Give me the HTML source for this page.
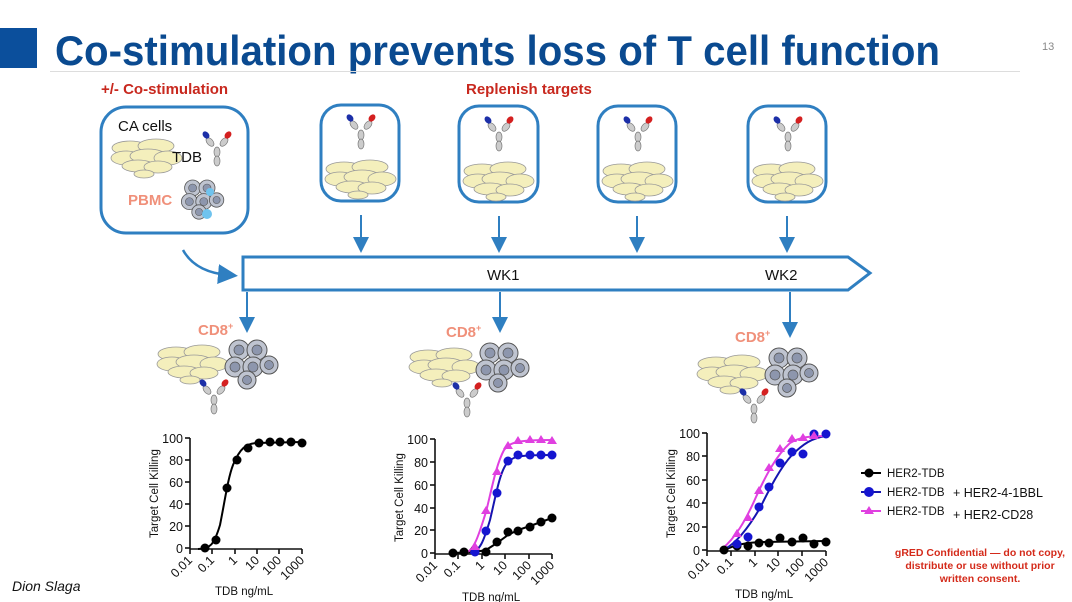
<!DOCTYPE html>
<html><head><meta charset="utf-8"><style>
html,body{margin:0;padding:0;background:#fff}
svg{display:block}
text{font-family:"Liberation Sans",sans-serif}
</style></head><body>
<svg width="1072" height="602" viewBox="0 0 1072 602" xmlns="http://www.w3.org/2000/svg">
<defs>
<g id="cells">
<ellipse cx="18" cy="14" rx="18" ry="7" fill="#f4efbc" stroke="#999" stroke-width="0.8"/>
<ellipse cx="44" cy="12" rx="18" ry="7" fill="#f4efbc" stroke="#999" stroke-width="0.8"/>
<ellipse cx="14" cy="24" rx="15" ry="7" fill="#f4efbc" stroke="#999" stroke-width="0.8"/>
<ellipse cx="36" cy="22" rx="18" ry="7" fill="#f4efbc" stroke="#999" stroke-width="0.8"/>
<ellipse cx="56" cy="24" rx="14" ry="7" fill="#f4efbc" stroke="#999" stroke-width="0.8"/>
<ellipse cx="26" cy="32" rx="16" ry="6" fill="#f4efbc" stroke="#999" stroke-width="0.8"/>
<ellipse cx="46" cy="33" rx="14" ry="6" fill="#f4efbc" stroke="#999" stroke-width="0.8"/>
<ellipse cx="32" cy="40" rx="10" ry="4" fill="#f4efbc" stroke="#999" stroke-width="0.8"/>
</g>
<g id="ab">
<ellipse cx="14" cy="22" rx="3" ry="5" fill="#ccc" stroke="#777" stroke-width="0.7"/>
<ellipse cx="14" cy="31" rx="3" ry="5" fill="#ccc" stroke="#777" stroke-width="0.7"/>
<ellipse cx="7" cy="12" rx="3" ry="5" fill="#ccc" stroke="#777" stroke-width="0.7" transform="rotate(-40 7 12)"/>
<ellipse cx="21" cy="12" rx="3" ry="5" fill="#ccc" stroke="#777" stroke-width="0.7" transform="rotate(40 21 12)"/>
<ellipse cx="3" cy="5" rx="3" ry="4" fill="#1c2fa8" transform="rotate(-40 3 5)"/>
<ellipse cx="25" cy="5" rx="3" ry="4" fill="#d42020" transform="rotate(40 25 5)"/>
</g>
<g id="tc">
<circle cx="12" cy="10" r="10" fill="#bfc4d0" stroke="#555" stroke-width="1"/><circle cx="12" cy="10" r="5" fill="#8d96ad" stroke="#555" stroke-width="0.7"/>
<circle cx="30" cy="10" r="10" fill="#bfc4d0" stroke="#555" stroke-width="1"/><circle cx="30" cy="10" r="5" fill="#8d96ad" stroke="#555" stroke-width="0.7"/>
<circle cx="8" cy="27" r="10" fill="#bfc4d0" stroke="#555" stroke-width="1"/><circle cx="8" cy="27" r="5" fill="#8d96ad" stroke="#555" stroke-width="0.7"/>
<circle cx="26" cy="27" r="10" fill="#bfc4d0" stroke="#555" stroke-width="1"/><circle cx="26" cy="27" r="5" fill="#8d96ad" stroke="#555" stroke-width="0.7"/>
<circle cx="42" cy="25" r="9" fill="#bfc4d0" stroke="#555" stroke-width="1"/><circle cx="42" cy="25" r="4.5" fill="#8d96ad" stroke="#555" stroke-width="0.7"/>
<circle cx="20" cy="40" r="9" fill="#bfc4d0" stroke="#555" stroke-width="1"/><circle cx="20" cy="40" r="4.5" fill="#8d96ad" stroke="#555" stroke-width="0.7"/>
</g>
<marker id="ah" markerWidth="8" markerHeight="8" refX="4" refY="4" orient="auto"><path d="M0,0 L8,4 L0,8 z" fill="#2f7fc1"/></marker>
</defs>

<rect x="0" y="28" width="37" height="40" fill="#0b4f9c"/>
<text x="55" y="65" font-size="42" font-weight="bold" fill="#0a4a90" textLength="885" lengthAdjust="spacingAndGlyphs">Co-stimulation prevents loss of T cell function</text>
<line x1="50" y1="71.5" x2="1020" y2="71.5" stroke="#ddd" stroke-width="1"/>
<text x="1042" y="50" font-size="11" fill="#888">13</text>

<text x="101" y="94" font-size="15" font-weight="bold" fill="#c8281e">+/- Co-stimulation</text>
<text x="466" y="94" font-size="15" font-weight="bold" fill="#c8281e">Replenish targets</text>

<rect x="101" y="107" width="147" height="126" rx="25" fill="none" stroke="#2f7fc1" stroke-width="3"/>
<text x="118" y="131" font-size="15" fill="#111">CA cells</text>
<use href="#cells" x="112" y="134"/>
<text x="172" y="162" font-size="15" fill="#111">TDB</text>
<use href="#ab" x="203" y="130"/>
<text x="128" y="205" font-size="15" font-weight="bold" fill="#f0907a">PBMC</text>
<g transform="translate(183,180) scale(0.8)"><use href="#tc"/></g>
<circle cx="210" cy="192" r="4" fill="#6fc3ee"/><circle cx="207" cy="214" r="5" fill="#6fc3ee"/>

<g fill="none" stroke="#2f7fc1" stroke-width="3">
<rect x="321" y="105" width="78" height="96" rx="20"/>
<rect x="459" y="106" width="79" height="96" rx="20"/>
<rect x="598" y="106" width="78" height="96" rx="20"/>
<rect x="748" y="106" width="78" height="96" rx="20"/>
</g>
<use href="#ab" x="347" y="113"/><use href="#cells" x="326" y="155"/>
<use href="#ab" x="485" y="115"/><use href="#cells" x="464" y="157"/>
<use href="#ab" x="624" y="115"/><use href="#cells" x="603" y="157"/>
<use href="#ab" x="774" y="115"/><use href="#cells" x="753" y="157"/>

<g stroke="#2f7fc1" stroke-width="2" marker-end="url(#ah)">
<line x1="361" y1="215" x2="361" y2="245"/>
<line x1="499" y1="216" x2="499" y2="245"/>
<line x1="637" y1="216" x2="637" y2="245"/>
<line x1="787" y1="216" x2="787" y2="245"/>
<line x1="247" y1="292" x2="247" y2="325"/>
<line x1="500" y1="292" x2="500" y2="325"/>
<line x1="790" y1="292" x2="790" y2="330"/>
</g>
<path d="M183,250 Q195,272 228,275" fill="none" stroke="#2f7fc1" stroke-width="2.5" marker-end="url(#ah)"/>
<path d="M243,257 L848,257 L870,273 L848,290 L243,290 Z" fill="none" stroke="#2f7fc1" stroke-width="3"/>
<text x="487" y="280" font-size="15" fill="#111">WK1</text>
<text x="765" y="280" font-size="15" fill="#111">WK2</text>

<g font-size="15" font-weight="bold" fill="#f0907a">
<text x="198" y="335">CD8<tspan font-size="9" dy="-6">+</tspan></text>
<text x="446" y="337">CD8<tspan font-size="9" dy="-6">+</tspan></text>
<text x="735" y="342">CD8<tspan font-size="9" dy="-6">+</tspan></text>
</g>
<use href="#cells" x="158" y="340"/><use href="#tc" x="227" y="340"/><use href="#ab" x="200" y="378"/>
<use href="#cells" x="410" y="343"/><use href="#tc" x="478" y="343"/><use href="#ab" x="453" y="381"/>
<use href="#cells" x="698" y="350"/><use href="#tc" x="767" y="348"/><use href="#ab" x="740" y="387"/>

<g font-size="12.5" fill="#111">
<g stroke="#111" stroke-width="1.6">
<line x1="190" y1="438" x2="190" y2="549"/><line x1="190" y1="549" x2="302" y2="549"/>
<line x1="185" y1="438" x2="190" y2="438"/><line x1="185" y1="460" x2="190" y2="460"/><line x1="185" y1="482" x2="190" y2="482"/><line x1="185" y1="504" x2="190" y2="504"/><line x1="185" y1="526" x2="190" y2="526"/><line x1="185" y1="548" x2="190" y2="548"/>
<line x1="190" y1="549" x2="190" y2="554"/><line x1="212" y1="549" x2="212" y2="554"/><line x1="235" y1="549" x2="235" y2="554"/><line x1="257" y1="549" x2="257" y2="554"/><line x1="279" y1="549" x2="279" y2="554"/><line x1="302" y1="549" x2="302" y2="554"/>
</g>
<g text-anchor="end"><text x="183" y="443">100</text><text x="183" y="465">80</text><text x="183" y="487">60</text><text x="183" y="509">40</text><text x="183" y="531">20</text><text x="183" y="553">0</text></g>
<g text-anchor="end">
<text transform="translate(193,561) rotate(-45)">0.01</text><text transform="translate(215,561) rotate(-45)">0.1</text><text transform="translate(238,561) rotate(-45)">1</text><text transform="translate(260,561) rotate(-45)">10</text><text transform="translate(282,561) rotate(-45)">100</text><text transform="translate(305,561) rotate(-45)">1000</text>
</g>
<text transform="translate(158,538) rotate(-90)" font-size="11.5">Target Cell Killing</text>
<text x="215" y="595" font-size="11.5">TDB ng/mL</text>
<path d="M198,549 C210,549 214,545 220,525 C225,500 228,478 233,465 C240,448 246,444 256,443 L302,442" fill="none" stroke="#000" stroke-width="2"/>
<g fill="#000"><circle cx="205" cy="548" r="4.5"/><circle cx="216" cy="540" r="4.5"/><circle cx="227" cy="488" r="4.5"/><circle cx="237" cy="460" r="4.5"/><circle cx="248" cy="448" r="4.5"/><circle cx="259" cy="443" r="4.5"/><circle cx="270" cy="442" r="4.5"/><circle cx="280" cy="442" r="4.5"/><circle cx="291" cy="442" r="4.5"/><circle cx="302" cy="443" r="4.5"/></g>
</g>

<g font-size="12.5" fill="#111">
<g stroke="#111" stroke-width="1.6">
<line x1="435" y1="439" x2="435" y2="554"/><line x1="435" y1="554" x2="552" y2="554"/>
<line x1="430" y1="439" x2="435" y2="439"/><line x1="430" y1="462" x2="435" y2="462"/><line x1="430" y1="485" x2="435" y2="485"/><line x1="430" y1="508" x2="435" y2="508"/><line x1="430" y1="530" x2="435" y2="530"/><line x1="430" y1="553" x2="435" y2="553"/>
<line x1="435" y1="554" x2="435" y2="559"/><line x1="458" y1="554" x2="458" y2="559"/><line x1="482" y1="554" x2="482" y2="559"/><line x1="505" y1="554" x2="505" y2="559"/><line x1="529" y1="554" x2="529" y2="559"/><line x1="552" y1="554" x2="552" y2="559"/>
</g>
<g text-anchor="end"><text x="428" y="444">100</text><text x="428" y="467">80</text><text x="428" y="490">60</text><text x="428" y="513">40</text><text x="428" y="535">20</text><text x="428" y="558">0</text></g>
<g text-anchor="end">
<text transform="translate(438,566) rotate(-45)">0.01</text><text transform="translate(461,566) rotate(-45)">0.1</text><text transform="translate(485,566) rotate(-45)">1</text><text transform="translate(508,566) rotate(-45)">10</text><text transform="translate(532,566) rotate(-45)">100</text><text transform="translate(555,566) rotate(-45)">1000</text>
</g>
<text transform="translate(403,542) rotate(-90)" font-size="11.5">Target Cell Killing</text>
<text x="462" y="601" font-size="11.5">TDB ng/mL</text>
<polyline points="453,553 475,552 486,550 497,543 508,535 518,530 530,526 541,522 552,518" fill="none" stroke="#000" stroke-width="2"/>
<path d="M470,553 C480,552 484,540 490,520 C496,495 500,470 508,462 C514,456 520,455 552,455" fill="none" stroke="#1515b0" stroke-width="2"/>
<path d="M465,553 C475,551 480,530 486,512 C492,488 496,465 504,450 C510,442 518,440 552,440" fill="none" stroke="#e040e0" stroke-width="2"/>
<g fill="#000"><circle cx="453" cy="553" r="4.5"/><circle cx="464" cy="552" r="4.5"/><circle cx="475" cy="550" r="4.5"/><circle cx="486" cy="552" r="4.5"/><circle cx="497" cy="542" r="4.5"/><circle cx="508" cy="532" r="4.5"/><circle cx="518" cy="531" r="4.5"/><circle cx="530" cy="527" r="4.5"/><circle cx="541" cy="522" r="4.5"/><circle cx="552" cy="518" r="4.5"/></g>
<g fill="#1515d0"><circle cx="475" cy="552" r="4.5"/><circle cx="486" cy="531" r="4.5"/><circle cx="497" cy="493" r="4.5"/><circle cx="508" cy="461" r="4.5"/><circle cx="518" cy="455" r="4.5"/><circle cx="530" cy="455" r="4.5"/><circle cx="541" cy="455" r="4.5"/><circle cx="552" cy="455" r="4.5"/></g>
<g fill="#e040e0"><path d="M475,542 l5,8 h-10z"/><path d="M486,506 l5,8 h-10z"/><path d="M497,467 l5,8 h-10z"/><path d="M508,441 l5,8 h-10z"/><path d="M518,436 l5,8 h-10z"/><path d="M530,435 l5,8 h-10z"/><path d="M541,435 l5,8 h-10z"/><path d="M552,436 l5,8 h-10z"/></g>
</g>

<g font-size="12.5" fill="#111">
<g stroke="#111" stroke-width="1.6">
<line x1="707" y1="433" x2="707" y2="551"/><line x1="707" y1="551" x2="826" y2="551"/>
<line x1="702" y1="433" x2="707" y2="433"/><line x1="702" y1="456" x2="707" y2="456"/><line x1="702" y1="480" x2="707" y2="480"/><line x1="702" y1="503" x2="707" y2="503"/><line x1="702" y1="527" x2="707" y2="527"/><line x1="702" y1="550" x2="707" y2="550"/>
<line x1="707" y1="551" x2="707" y2="556"/><line x1="731" y1="551" x2="731" y2="556"/><line x1="755" y1="551" x2="755" y2="556"/><line x1="778" y1="551" x2="778" y2="556"/><line x1="802" y1="551" x2="802" y2="556"/><line x1="826" y1="551" x2="826" y2="556"/>
</g>
<g text-anchor="end"><text x="700" y="438">100</text><text x="700" y="461">80</text><text x="700" y="485">60</text><text x="700" y="508">40</text><text x="700" y="532">20</text><text x="700" y="555">0</text></g>
<g text-anchor="end">
<text transform="translate(710,563) rotate(-45)">0.01</text><text transform="translate(734,563) rotate(-45)">0.1</text><text transform="translate(758,563) rotate(-45)">1</text><text transform="translate(781,563) rotate(-45)">10</text><text transform="translate(805,563) rotate(-45)">100</text><text transform="translate(829,563) rotate(-45)">1000</text>
</g>
<text transform="translate(675,538) rotate(-90)" font-size="11.5">Target Cell Killing</text>
<text x="735" y="598" font-size="11.5">TDB ng/mL</text>
<polyline points="724,550 737,545 748,543 760,542 826,541" fill="none" stroke="#000" stroke-width="2"/>
<path d="M725,549 C738,542 750,525 760,508 C770,488 780,468 792,455 C803,444 812,438 826,436" fill="none" stroke="#1515b0" stroke-width="2"/>
<path d="M722,549 C735,538 745,522 756,497 C766,475 776,456 790,443 C800,437 810,436 826,436" fill="none" stroke="#e040e0" stroke-width="2"/>
<g fill="#000"><circle cx="724" cy="550" r="4.5"/><circle cx="737" cy="546" r="4.5"/><circle cx="748" cy="546" r="4.5"/><circle cx="759" cy="543" r="4.5"/><circle cx="769" cy="543" r="4.5"/><circle cx="780" cy="538" r="4.5"/><circle cx="792" cy="542" r="4.5"/><circle cx="803" cy="538" r="4.5"/><circle cx="814" cy="544" r="4.5"/><circle cx="826" cy="542" r="4.5"/></g>
<g fill="#1515d0"><circle cx="737" cy="544" r="4.5"/><circle cx="748" cy="537" r="4.5"/><circle cx="759" cy="507" r="4.5"/><circle cx="769" cy="487" r="4.5"/><circle cx="780" cy="463" r="4.5"/><circle cx="792" cy="452" r="4.5"/><circle cx="803" cy="454" r="4.5"/><circle cx="814" cy="434" r="4.5"/><circle cx="826" cy="434" r="4.5"/></g>
<g fill="#e040e0"><path d="M737,529 l5,8 h-10z"/><path d="M748,513 l5,8 h-10z"/><path d="M759,486 l5,8 h-10z"/><path d="M769,463 l5,8 h-10z"/><path d="M780,444 l5,8 h-10z"/><path d="M792,434 l5,8 h-10z"/><path d="M803,433 l5,8 h-10z"/><path d="M814,431 l5,8 h-10z"/></g>
</g>

<g font-size="11.5" fill="#111">
<line x1="861" y1="473" x2="881" y2="473" stroke="#000" stroke-width="2"/><circle cx="869" cy="473" r="4.5" fill="#000"/>
<text x="887" y="477">HER2-TDB</text>
<line x1="861" y1="492" x2="881" y2="492" stroke="#1515b0" stroke-width="2"/><circle cx="869" cy="492" r="5" fill="#1515d0"/>
<text x="887" y="496">HER2-TDB</text><text x="953" y="497" font-size="12.5">+ HER2-4-1BBL</text>
<line x1="861" y1="511" x2="881" y2="511" stroke="#e040e0" stroke-width="2"/><path d="M869,506 l5,8 h-10z" fill="#e040e0"/>
<text x="887" y="515">HER2-TDB</text><text x="953" y="519" font-size="12.5">+ HER2-CD28</text>
</g>
<g font-size="10.5" font-weight="bold" fill="#d42a1a" text-anchor="middle">
<text x="980" y="556">gRED Confidential — do not copy,</text>
<text x="980" y="569">distribute or use without prior</text>
<text x="980" y="582">written consent.</text>
</g>
<text x="12" y="591" font-size="14" font-style="italic" fill="#111">Dion Slaga</text>
</svg>
</body></html>
